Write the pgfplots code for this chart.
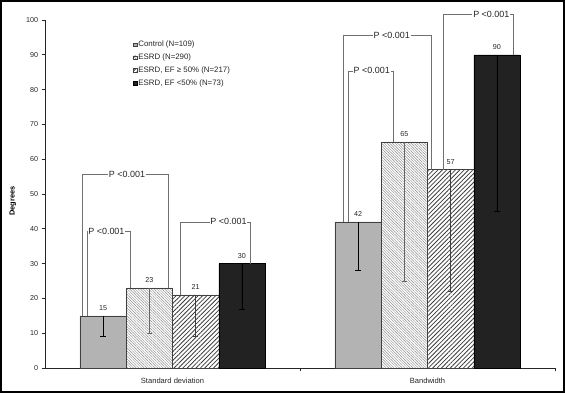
\documentclass[border=0pt]{standalone}
\usepackage{fontspec}
\setmainfont{Liberation Sans}
\usepackage{pgfplots}
\pgfplotsset{compat=1.18}
\usetikzlibrary{patterns.meta}

\definecolor{ctrl}{HTML}{B3B3B3}
\definecolor{darkbar}{HTML}{222222}
\definecolor{brk}{HTML}{707070}
\definecolor{hatchA}{HTML}{8C8C8C}
\definecolor{hatchB}{HTML}{3C3C3C}

\pgfplotsset{
  sqlegend/.style={legend image code/.code={\draw[##1, line width=0.5bp] (0bp,-1.9bp) rectangle (3.8bp,1.9bp);}},
}

\begin{document}
\begin{tikzpicture}
\begin{axis}[
  name=ax,
  scale only axis, width=510bp, height=348bp,
  xmin=-0.5, xmax=1.5, ymin=0, ymax=100,
  ybar=0pt, bar width=46.3bp,
  clip=false,
  axis lines*=left,
  axis line style={black!85, line width=0.7bp},
  /pgf/number format/assume math mode=true,
  ytick={0,10,...,100},
  tick align=outside,
  major tick length=3.3bp,
  tick style={black!85, line width=0.6bp},
  yticklabel style={font=\fontsize{7.2}{8}\selectfont, text=black!85},
  xtick={0.5,1.5}, xticklabels={},
  extra x ticks={0,1},
  extra x tick labels={Standard deviation,Bandwidth},
  extra x tick style={major tick length=0pt, xticklabel style={font=\fontsize{7.6}{9}\selectfont, yshift=-6.5bp, text=black!85}},
  ylabel={Degrees},
  ylabel style={at={(axis description cs:-0.063,0.48)}, anchor=center, font=\fontsize{7.4}{9}\selectfont\bfseries},
  nodes near coords,
  nodes near coords style={font=\fontsize{7.2}{8}\selectfont, text=black!85, yshift=1.5bp},
  legend style={at={(0.172,0.943)}, anchor=north west, draw=none, fill=none,
    font=\fontsize{7.9}{9}\selectfont, row sep=3.3bp, inner sep=0pt,
    nodes={inner sep=1.2bp, text=black!85}},
  legend cell align=left,
  error bars/y dir=minus,
  error bars/y explicit,
]
\addplot[sqlegend, fill=ctrl, draw=black!75, line width=0.5bp,
  error bars/error bar style={black, line width=0.6bp},
  error bars/error mark options={rotate=90, black, mark size=2.6bp, line width=0.6bp}]
  coordinates {(0,15) +- (0,6) (1,42) +- (0,14)};
\addlegendentry{Control (N=109)}
\addplot[sqlegend, pattern={Lines[angle=-45, distance=1.9bp, line width=0.45bp]}, pattern color=hatchA, draw=black!75, line width=0.5bp,
  error bars/error bar style={black!60, line width=0.6bp},
  error bars/error mark options={rotate=90, black!60, mark size=2.6bp, line width=0.6bp}]
  coordinates {(0,23) +- (0,13) (1,65) +- (0,40)};
\addlegendentry{ESRD (N=290)}
\addplot[sqlegend, pattern={Lines[angle=45, distance=3.1bp, line width=0.8bp]}, pattern color=hatchB, draw=black!75, line width=0.5bp,
  error bars/error bar style={black!75, line width=0.6bp},
  error bars/error mark options={rotate=90, black!75, mark size=2.6bp, line width=0.6bp}]
  coordinates {(0,21) +- (0,12) (1,57) +- (0,35)};
\addlegendentry{ESRD, EF ≥ 50\% (N=217)}
\addplot[sqlegend, fill=darkbar, draw=black, line width=0.5bp,
  error bars/error bar style={black, line width=0.6bp},
  error bars/error mark options={rotate=90, black, mark size=2.6bp, line width=0.6bp}]
  coordinates {(0,30) +- (0,13) (1,90) +- (0,45)};
\addlegendentry{ESRD, EF <50\% (N=73)}

% significance brackets
\begin{scope}[brk, line width=0.6bp]
\draw (axis cs:-0.3325,15) -- (axis cs:-0.3325,39.2) -- (axis cs:-0.1639,39.2) -- (axis cs:-0.1639,23);
\draw (axis cs:-0.3537,15) -- (axis cs:-0.3537,55.7) -- (axis cs:-0.0165,55.7) -- (axis cs:-0.0165,23);
\draw (axis cs:0.0294,21) -- (axis cs:0.0294,42) -- (axis cs:0.3067,42) -- (axis cs:0.3067,30);
\draw (axis cs:0.6894,42) -- (axis cs:0.6894,85.4) -- (axis cs:0.8659,85.4) -- (axis cs:0.8659,65);
\draw (axis cs:0.6698,42) -- (axis cs:0.6698,95.7) -- (axis cs:1.0165,95.7) -- (axis cs:1.0165,57);
\draw (axis cs:1.062,57) -- (axis cs:1.062,101.7) -- (axis cs:1.3365,101.7) -- (axis cs:1.3365,90);
\end{scope}
\begin{scope}[every node/.style={fill=white, inner sep=0.8bp, text=black!85, font=\fontsize{9}{10}\selectfont}]
\node[anchor=west] at (axis cs:-0.334,39.2) {P <0.001};
\node at (axis cs:-0.1784,55.7) {P <0.001};
\node at (axis cs:0.2196,42) {P <0.001};
\node at (axis cs:0.7812,85.4) {P <0.001};
\node at (axis cs:0.8596,95.7) {P <0.001};
\node at (axis cs:1.2503,101.7) {P <0.001};
\end{scope}
\end{axis}
\pgfresetboundingbox
\useasboundingbox ([shift={(-45bp,-25bp)}]ax.south west) rectangle ++(565bp,393bp);
\draw[line width=2bp, black] ([shift={(-44bp,-24bp)}]ax.south west) rectangle ++(563bp,391bp);
\end{tikzpicture}
\end{document}
